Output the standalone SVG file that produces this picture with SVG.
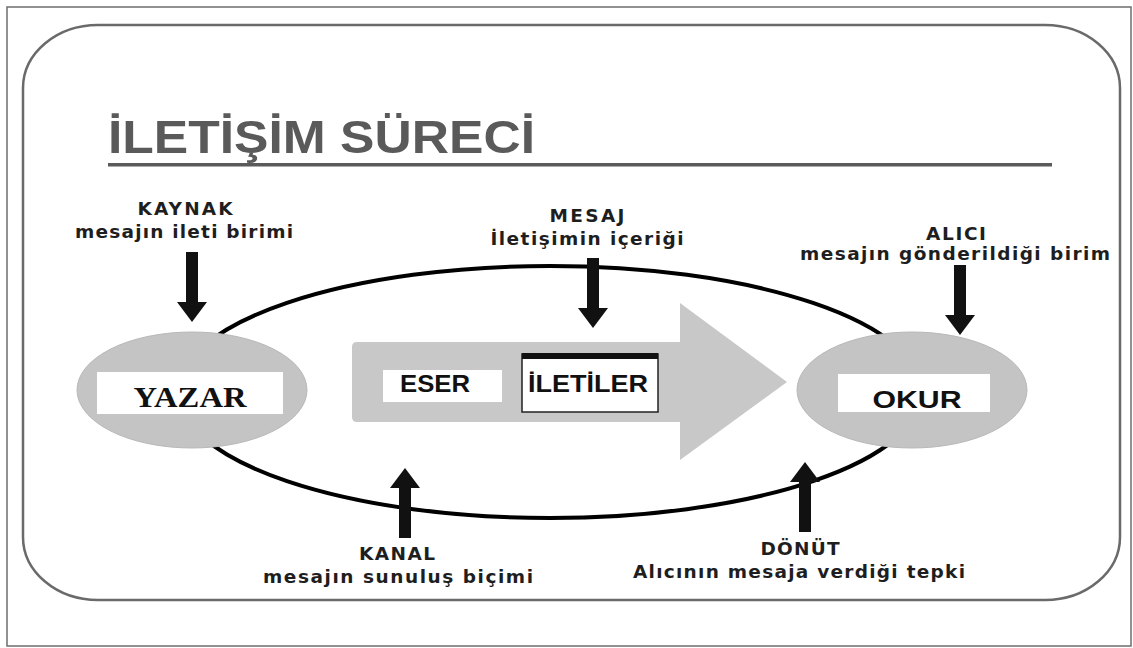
<svg xmlns="http://www.w3.org/2000/svg" xmlns:xlink="http://www.w3.org/1999/xlink" width="1133" height="648" viewBox="0 0 1133 648">
<style>
.lbl{font-family:"DejaVu Sans","Liberation Sans",sans-serif;font-weight:bold;font-size:18.5px;fill:#1e1e1e;text-anchor:middle}
.box{fill:#ffffff}
.node{fill:#c4c4c4;stroke:#b8b8b8;stroke-width:1}
.bx{font-family:"Liberation Sans",Arial,sans-serif;font-weight:bold;font-size:24px;fill:#111}
.arr{fill:#111}
</style>
<defs>
<path id="dn" d="M-6,0 L6,0 L6,50 L15,50 L0,70 L-15,50 L-6,50 Z"/>
</defs>
<rect x="0" y="0" width="1133" height="648" fill="#ffffff"/>
<rect x="7" y="7" width="1124" height="639" fill="none" stroke="#6e6e6e" stroke-width="1.5"/>
<rect x="23" y="25" width="1097" height="575" rx="75" ry="63" fill="#ffffff" stroke="#6a6a6a" stroke-width="2.5"/>
<g id="title">
<text x="108" y="153" font-family="'Liberation Sans Narrow','Liberation Sans',Arial,sans-serif" font-weight="bold" font-size="46" fill="#5a5a5a" textLength="427" lengthAdjust="spacingAndGlyphs">İLETİŞİM SÜRECİ</text>
<rect x="108" y="163" width="944" height="3.5" fill="#5a5a5a"/>
</g>
<g id="connectors">
<ellipse cx="550" cy="392" rx="372" ry="126" fill="none" stroke="#000" stroke-width="4"/>
</g>
<g id="yazar">
<ellipse class="node" cx="192" cy="390" rx="115" ry="58"/>
<rect class="box" x="97" y="372" width="186" height="42"/>
<text x="190" y="407" text-anchor="middle" font-family="'Liberation Serif','Times New Roman',serif" font-weight="bold" font-size="30" fill="#111" textLength="113" lengthAdjust="spacingAndGlyphs">YAZAR</text>
</g>
<g id="okur">
<ellipse class="node" cx="912" cy="390" rx="115" ry="58"/>
<rect class="box" x="838" y="374" width="152" height="38"/>
<text class="bx" x="917" y="408" text-anchor="middle" textLength="89" lengthAdjust="spacingAndGlyphs">OKUR</text>
</g>
<g id="eser-arrow">
<path d="M352,347 Q352,342 357,342 L680,342 L680,303 L787,382 L680,460 L680,422 L357,422 Q352,422 352,417 Z" fill="#c8c8c8"/>
<rect class="box" x="383" y="370" width="119" height="32"/>
<text class="bx" x="435" y="392" text-anchor="middle" font-size="23" textLength="70" lengthAdjust="spacingAndGlyphs">ESER</text>
</g>
<g id="iletiler">
<rect x="522" y="354" width="136" height="58" fill="#ffffff" stroke="#222" stroke-width="1.5"/>
<rect x="522" y="353" width="136" height="6" fill="#111"/>
<text class="bx" x="588" y="392" text-anchor="middle" font-size="23" textLength="120" lengthAdjust="spacingAndGlyphs">İLETİLER</text>
</g>
<g id="arrows">
<use xlink:href="#dn" href="#dn" class="arr" transform="translate(192,252)"/>
<use xlink:href="#dn" href="#dn" class="arr" transform="translate(593,258)"/>
<use xlink:href="#dn" href="#dn" class="arr" transform="translate(960,265)"/>
<use xlink:href="#dn" href="#dn" class="arr" transform="translate(405,538) scale(1,-1)"/>
<use xlink:href="#dn" href="#dn" class="arr" transform="translate(805,532) scale(1,-1)"/>
</g>
<g id="kaynak">
<text class="lbl" x="185" y="215" textLength="95" lengthAdjust="spacing">KAYNAK</text>
<text class="lbl" x="184" y="238" textLength="218" lengthAdjust="spacing">mesajın ileti birimi</text>
</g>
<g id="mesaj">
<text class="lbl" x="587" y="222" textLength="75" lengthAdjust="spacing">MESAJ</text>
<text class="lbl" x="587" y="245" textLength="193" lengthAdjust="spacing">İletişimin içeriği</text>
</g>
<g id="alici">
<text class="lbl" x="956" y="240" textLength="60" lengthAdjust="spacing">ALICI</text>
<text class="lbl" x="955" y="260" textLength="310" lengthAdjust="spacing">mesajın gönderildiği birim</text>
</g>
<g id="kanal">
<text class="lbl" x="397" y="560" textLength="76" lengthAdjust="spacing">KANAL</text>
<text class="lbl" x="398" y="583" textLength="270" lengthAdjust="spacing">mesajın sunuluş biçimi</text>
</g>
<g id="donut">
<text class="lbl" x="800" y="555" textLength="79" lengthAdjust="spacing">DÖNÜT</text>
<text class="lbl" x="799" y="578" textLength="332" lengthAdjust="spacing">Alıcının mesaja verdiği tepki</text>
</g>
</svg>
